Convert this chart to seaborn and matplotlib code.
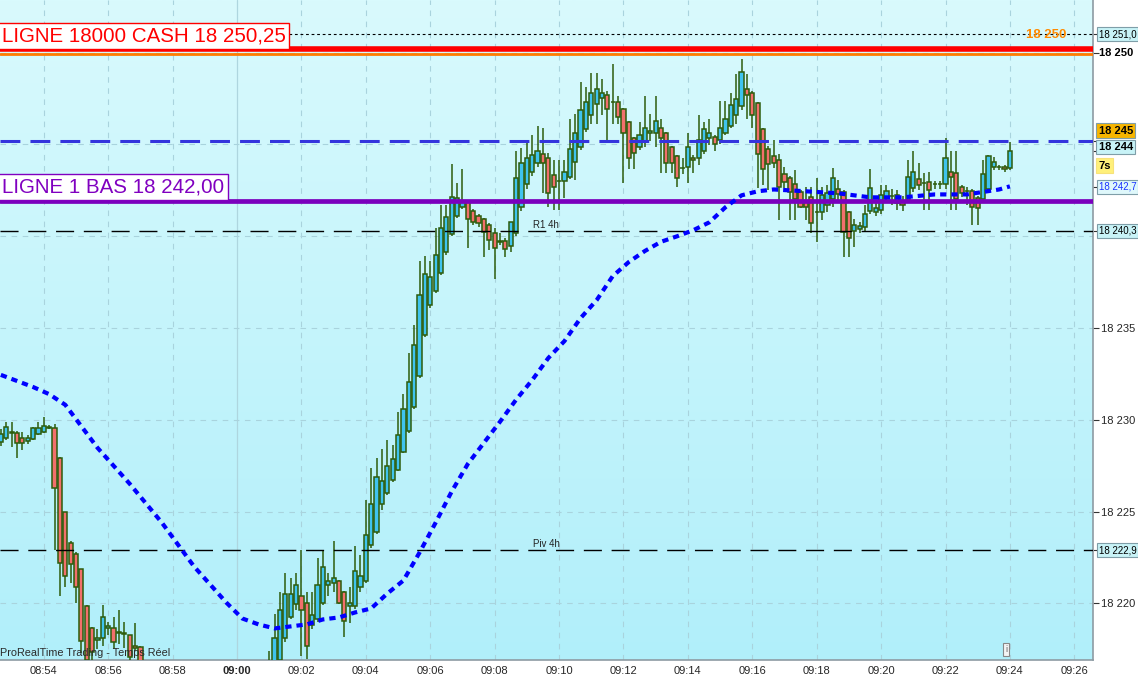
import numpy as np
import pandas as pd
import seaborn as sns
import matplotlib.pyplot as plt
from matplotlib.colors import LinearSegmentedColormap
from matplotlib.transforms import blended_transform_factory

# 10 second candles.
# block 1 starts 08:52:40, then price leaves the window (below) until 09:01:00
block1_start = "08:52:40"
block1_open = [18228.80, 18229.02, 18229.35, 18229.29, 18229.02, 18228.86, 18228.97, 18229.24, 18229.35, 18229.60,
               18229.57, 18227.93, 18225.00, 18223.32, 18222.72, 18221.85, 18219.84, 18218.64, 18217.99, 18218.10,
               18218.64, 18218.64, 18218.37, 18218.37, 18218.26, 18217.67, 18217.61]
block1_high = [18229.50, 18229.90, 18229.90, 18229.40, 18229.35, 18229.20, 18229.60, 18229.90, 18230.16, 18229.70,
               18229.80, 18228.00, 18225.00, 18223.40, 18222.80, 18221.90, 18219.90, 18218.70, 18218.59, 18219.89,
               18219.00, 18219.24, 18219.67, 18219.00, 18218.30, 18218.91, 18217.70]
block1_low = [18228.60, 18228.90, 18228.50, 18227.90, 18228.37, 18228.70, 18228.90, 18229.20, 18229.30, 18229.50,
              18222.93, 18220.38, 18220.92, 18221.14, 18220.00, 18217.30, 18216.50, 18216.80, 18217.50, 18217.70,
              18218.30, 18217.50, 18217.80, 18217.60, 18216.50, 18217.40, 18216.00]
block1_close = [18229.24, 18229.62, 18229.30, 18228.75, 18228.75, 18229.02, 18229.57, 18229.57, 18229.67, 18229.55,
                18226.30, 18222.23, 18221.52, 18222.17, 18220.92, 18217.93, 18216.90, 18217.34, 18218.10, 18219.24,
                18218.75, 18217.88, 18218.42, 18218.32, 18217.07, 18217.56, 18216.50]

# block 2: 09:01:00 -> 09:24:00
block2_start = "09:01:00"
block2_open = [18216.00, 18216.60, 18216.90, 18218.10, 18219.24, 18219.95, 18220.43, 18220.05, 18218.80, 18219.13,
               18220.05, 18221.03, 18221.09, 18221.25, 18220.60, 18219.84, 18219.84, 18220.87, 18221.20, 18223.20,
               18223.91, 18225.43, 18226.03, 18226.74, 18227.28, 18228.26, 18229.40, 18230.71, 18232.39, 18234.62,
               18236.25, 18237.01, 18237.99, 18239.13, 18240.11, 18241.09, 18241.60, 18241.85, 18241.36, 18241.09,
               18240.92, 18240.60, 18240.16, 18239.70, 18239.73, 18239.46, 18240.16, 18241.58, 18242.83, 18243.48,
               18243.97, 18244.46, 18244.24, 18243.32, 18243.00, 18242.99, 18243.21, 18244.02, 18244.84, 18245.87,
               18246.63, 18247.23, 18247.55, 18247.72, 18247.30, 18247.34, 18246.96, 18246.25, 18245.33, 18244.84,
               18245.16, 18245.60, 18245.65, 18245.92, 18245.65, 18244.84, 18244.35, 18243.70, 18243.75, 18244.29,
               18244.24, 18244.67, 18245.33, 18245.43, 18245.27, 18245.60, 18246.03, 18246.58, 18247.07, 18248.04,
               18247.83, 18247.28, 18245.87, 18244.78, 18244.35, 18244.13, 18243.37, 18243.15, 18242.83, 18242.39,
               18241.85, 18242.12, 18241.30, 18241.30, 18241.68, 18242.01, 18242.55, 18242.39, 18241.30, 18240.27,
               18240.40, 18240.49, 18241.36, 18241.30, 18241.41, 18242.07, 18242.17, 18241.79, 18241.85, 18241.96,
               18242.61, 18243.10, 18242.88, 18242.93, 18242.83, 18242.83, 18242.83, 18243.48, 18243.42, 18242.66,
               18242.45, 18242.45, 18242.07, 18242.01, 18242.55, 18243.75, 18243.75, 18243.75, 18243.70]
block2_high = [18217.39, 18219.40, 18220.65, 18221.68, 18221.41, 18221.68, 18222.93, 18220.65, 18220.65, 18222.45,
               18222.93, 18221.68, 18223.42, 18221.30, 18220.70, 18220.92, 18223.15, 18222.66, 18225.65, 18227.39,
               18227.93, 18228.42, 18228.91, 18228.64, 18230.43, 18231.41, 18233.64, 18235.16, 18238.64, 18238.91,
               18238.64, 18240.43, 18241.68, 18241.68, 18243.91, 18242.88, 18243.64, 18242.00, 18241.50, 18241.20,
               18241.00, 18240.70, 18240.43, 18240.20, 18239.90, 18240.80, 18244.67, 18244.80, 18245.20, 18245.50,
               18246.00, 18245.92, 18244.51, 18244.13, 18244.13, 18244.13, 18246.41, 18246.68, 18248.42, 18248.15,
               18248.91, 18248.91, 18248.59, 18247.90, 18249.40, 18247.66, 18247.00, 18246.30, 18245.40, 18246.20,
               18247.66, 18246.68, 18247.66, 18246.41, 18245.70, 18244.90, 18244.40, 18244.24, 18245.65, 18244.40,
               18246.63, 18246.20, 18246.41, 18245.50, 18247.39, 18247.39, 18247.83, 18248.86, 18249.67, 18248.86,
               18247.90, 18247.30, 18245.90, 18244.90, 18245.22, 18244.50, 18243.75, 18243.30, 18243.59, 18242.50,
               18242.66, 18242.66, 18243.15, 18242.66, 18242.80, 18243.70, 18243.04, 18242.50, 18241.40, 18240.92,
               18240.80, 18241.68, 18243.64, 18241.80, 18242.77, 18242.80, 18242.60, 18242.50, 18242.20, 18244.13,
               18244.67, 18243.97, 18243.42, 18243.48, 18243.00, 18243.00, 18245.38, 18244.67, 18244.67, 18242.80,
               18242.66, 18242.60, 18242.20, 18244.13, 18244.40, 18244.30, 18243.90, 18243.90, 18245.11]
block2_low = [18215.50, 18216.30, 18216.60, 18217.90, 18219.13, 18219.67, 18217.12, 18216.96, 18218.59, 18219.00,
              18219.90, 18220.38, 18220.60, 18219.95, 18218.15, 18218.91, 18219.70, 18220.60, 18221.10, 18223.00,
              18223.80, 18225.11, 18225.90, 18226.60, 18227.20, 18228.20, 18229.30, 18230.60, 18232.30, 18234.50,
              18236.10, 18236.90, 18237.90, 18239.00, 18240.00, 18241.00, 18241.50, 18239.35, 18240.60, 18240.50,
              18238.86, 18239.24, 18237.66, 18239.50, 18238.86, 18239.13, 18240.00, 18241.40, 18242.60, 18243.30,
              18243.80, 18242.34, 18241.58, 18241.41, 18241.41, 18242.07, 18243.10, 18243.04, 18244.70, 18245.70,
              18246.14, 18246.14, 18246.58, 18245.22, 18246.14, 18246.14, 18242.88, 18243.64, 18243.64, 18244.70,
              18244.84, 18245.20, 18244.84, 18243.42, 18243.42, 18243.42, 18242.66, 18243.40, 18242.88, 18243.42,
              18243.86, 18244.50, 18244.95, 18244.67, 18245.00, 18245.50, 18245.90, 18246.14, 18246.90, 18246.41,
              18245.92, 18242.61, 18242.77, 18242.50, 18243.70, 18240.87, 18242.61, 18240.87, 18240.87, 18241.52,
              18240.87, 18240.16, 18239.67, 18240.87, 18241.30, 18241.58, 18241.96, 18238.86, 18238.86, 18239.40,
              18240.20, 18240.22, 18241.20, 18241.10, 18241.20, 18241.80, 18241.70, 18241.41, 18241.40, 18241.80,
              18242.40, 18242.50, 18241.41, 18241.41, 18242.60, 18242.60, 18242.60, 18241.41, 18241.41, 18242.12,
              18241.68, 18240.60, 18240.60, 18241.90, 18242.40, 18243.60, 18243.60, 18243.50, 18243.60]
block2_close = [18216.50, 18218.10, 18219.67, 18220.54, 18220.54, 18220.98, 18219.62, 18217.66, 18219.35, 18221.03,
                18221.96, 18221.20, 18221.41, 18220.00, 18219.02, 18220.00, 18221.79, 18221.52, 18223.75, 18225.43,
                18226.90, 18226.68, 18227.50, 18227.88, 18229.18, 18230.60, 18232.07, 18234.08, 18236.79, 18237.93,
                18237.77, 18238.97, 18240.43, 18241.03, 18242.12, 18242.07, 18241.90, 18240.92, 18240.76, 18240.71,
                18240.22, 18239.78, 18239.35, 18239.72, 18239.29, 18240.76, 18243.15, 18243.97, 18244.29, 18244.40,
                18244.67, 18243.97, 18242.34, 18242.66, 18243.00, 18243.48, 18244.78, 18245.65, 18246.90, 18247.34,
                18247.83, 18248.04, 18247.83, 18246.96, 18247.30, 18246.52, 18245.65, 18244.24, 18244.51, 18245.54,
                18245.92, 18245.76, 18246.30, 18245.38, 18243.97, 18243.97, 18243.15, 18243.70, 18244.84, 18244.13,
                18245.22, 18245.87, 18245.60, 18245.05, 18245.92, 18246.41, 18247.17, 18247.50, 18248.97, 18247.72,
                18246.63, 18244.46, 18243.64, 18243.91, 18243.97, 18242.66, 18242.93, 18242.39, 18242.01, 18241.58,
                18241.58, 18240.71, 18241.30, 18242.23, 18242.34, 18243.15, 18242.28, 18240.22, 18239.89, 18240.60,
                18240.55, 18241.20, 18242.61, 18241.52, 18242.23, 18242.45, 18242.17, 18242.23, 18241.68, 18243.21,
                18243.48, 18242.77, 18242.88, 18242.50, 18242.83, 18242.83, 18244.29, 18243.21, 18242.01, 18242.34,
                18242.45, 18241.58, 18241.52, 18243.37, 18244.35, 18244.02, 18243.75, 18243.64, 18244.62]

# dotted moving average, bar number counted from 08:52:40
ma_bar = [0, 3, 6, 9, 12, 18, 24, 30, 36, 42, 45, 48, 51, 54, 57, 60, 63, 66, 69, 72, 75, 78, 81, 84, 87,
          90, 93, 96, 99, 102, 105, 108, 111, 114, 117, 120, 123, 126, 129, 132, 135, 138, 141, 144, 150,
          156, 162, 168, 174, 180, 186, 188]
ma_value = [18232.45, 18232.12, 18231.79, 18231.40, 18230.82, 18228.48, 18226.52, 18224.40, 18222.01, 18220.05,
            18219.18, 18218.86, 18218.64, 18218.75, 18218.86, 18219.13, 18219.24, 18219.51, 18219.73, 18220.54,
            18221.25, 18222.77, 18224.40, 18226.10, 18227.60, 18228.75, 18229.90, 18231.10, 18232.17, 18233.37,
            18234.29, 18235.54, 18236.52, 18237.83, 18238.60, 18239.20, 18239.70, 18240.00, 18240.33, 18240.76,
            18241.58, 18242.23, 18242.45, 18242.55, 18242.45, 18242.34, 18242.12, 18242.12, 18242.28, 18242.28,
            18242.55, 18242.72]

# horizontal levels
ligne_cash = 18250.20
orange_level = 18249.92
dotted_level = 18251.0
blue_level = 18245.2
ligne_bas = 18241.9
r1_4h = 18240.3
piv_4h = 18222.9

x_ticks = list(range(-6, 27, 2))   # minutes from 09:00


def to_minutes(hhmmss):
    h, m, s = [int(v) for v in hhmmss.split(":")]
    return h * 60 + m + s / 60 - 9 * 60


rows = []
for start, o, h, l, c in [(block1_start, block1_open, block1_high, block1_low, block1_close),
                          (block2_start, block2_open, block2_high, block2_low, block2_close)]:
    t0 = to_minutes(start)
    for i in range(len(o)):
        rows.append({"t": t0 + i / 6, "open": o[i], "high": h[i], "low": l[i], "close": c[i]})
df = pd.DataFrame(rows)

ma = pd.DataFrame({"t": to_minutes("08:52:40") + np.array(ma_bar) / 6, "ma": ma_value})

sns.set_style("white")
plt.rcParams["font.family"] = ["Liberation Sans", "DejaVu Sans"]

fig = plt.figure(figsize=(11.38, 6.79), dpi=100)
ax = fig.add_axes([0, 19 / 679, 1093 / 1138, 660 / 679])

xmin, xmax = -7.36, 26.58
ymin, ymax = 18216.92, 18252.87

# background gradient
bg = LinearSegmentedColormap.from_list("bg", ["#b1effa", "#d9fafd"])
ax.imshow(np.linspace(0, 1, 256).reshape(-1, 1), extent=[xmin, xmax, ymin, ymax], origin="lower",
          aspect="auto", cmap=bg, zorder=0)

# grid
for xt in x_ticks:
    if xt == 0:
        ax.axvline(xt, color="#aed6df", lw=0.9, zorder=1)
    else:
        ax.axvline(xt, color="#a9d3dd", lw=0.8, ls=(0, (5, 5)), zorder=1)
for yt in range(18220, 18251, 5):
    ax.axhline(yt, color="#a9d3dd", lw=0.8, ls=(0, (5, 5)), zorder=1)

# candles
wick = "#2d5c0c"
body_col = np.where(df["close"] >= df["open"], "#3fc3ee", "#f2706c")
ax.vlines(df["t"], df["low"], df["high"], color=wick, lw=1.1, zorder=3)
ax.bar(df["t"], (df["close"] - df["open"]).abs().clip(lower=0.03), bottom=df[["open", "close"]].min(axis=1),
       width=0.13, color=body_col, edgecolor=wick, linewidth=1.1, zorder=3.5)

# levels
ax.axhline(dotted_level, color="black", lw=0.8, ls=(0, (2.5, 2.5)), zorder=4)
ax.axhline(ligne_cash, color="#ff0000", lw=4, zorder=4.2)
ax.axhline(orange_level, color="#ff7c00", lw=2, zorder=4.1)
ax.axhline(blue_level, color="#3434dd", lw=2.2, ls=(0, (6.5, 3.3)), zorder=4)
ax.axhline(ligne_bas, color="#7a00bd", lw=3.4, zorder=4)
ax.axhline(r1_4h, color="black", lw=1, ls=(0, (13, 7)), zorder=4)
ax.axhline(piv_4h, color="black", lw=1, ls=(0, (13, 7)), zorder=4)

# moving average
sns.lineplot(data=ma, x="t", y="ma", ax=ax, color="#0000ff", linewidth=3,
             linestyle=(0, (1.5, 1.2)), dash_capstyle="butt", zorder=6)

ax.set_xlim(xmin, xmax)
ax.set_ylim(ymin, ymax)
ax.set_xlabel("")
ax.set_ylabel("")

# x axis
ax.set_xticks(x_ticks)
ax.set_xticklabels(["%02d:%02d" % divmod(9 * 60 + m, 60) for m in x_ticks])
for lab, m in zip(ax.get_xticklabels(), x_ticks):
    if m == 0:
        lab.set_fontweight("bold")
        lab.set_fontsize(8.8)
ax.tick_params(axis="x", length=0, labelsize=8, pad=4, bottom=True)

# y axis on the right
yt = [18220, 18225, 18230, 18235, piv_4h, r1_4h, 18242.7, blue_level, 18244.62, 18250, dotted_level]
ax.set_yticks(yt)
ax.set_yticklabels(["18 220", "18 225", "18 230", "18 235"] + [""] * 7)
ax.yaxis.tick_right()
ax.tick_params(axis="y", right=True, left=False, labelright=True, labelleft=False, length=4,
               width=0.8, color="#333333", labelsize=8, pad=2)

for side in ["top", "left"]:
    ax.spines[side].set_visible(False)
for side in ["right", "bottom"]:
    ax.spines[side].set_visible(True)
    ax.spines[side].set_color("#8d9ba3")
    ax.spines[side].set_linewidth(1.2)

trans = blended_transform_factory(ax.transAxes, ax.transData)


def price_tag(value, text, fc, tc="black", bold=False, ec="#7f9ea8", size=8):
    ax.annotate(text, xy=(1, value), xycoords=trans, xytext=(4, 0), textcoords="offset points",
                va="center", ha="left", fontsize=size, color=tc, fontweight="bold" if bold else "normal",
                bbox=dict(boxstyle="square,pad=0.2", fc=fc, ec=ec, lw=0.8) if fc else None,
                annotation_clip=False, zorder=10)


price_tag(dotted_level, "18 251,0", "#c8f3f7", size=7)
price_tag(18250.0, "18 250", None, bold=True)
price_tag(18245.75, "18 245", "#f7b500", bold=True)
price_tag(18244.85, "18 244", "#c8f3f7", bold=True)
price_tag(18243.85, "7s", "#fff07a", bold=True, ec="#f7e27a")
price_tag(18242.7, "18 242,7", "#dff8fb", tc="#1a33ff", size=7)
price_tag(r1_4h, "18 240,3", "#c8f3f7", size=7)
price_tag(piv_4h, "18 222,9", "#c8f3f7", size=7)

# left boxed labels
ax.text(0.0017, 18250.9, "LIGNE 18000 CASH 18 250,25", transform=trans, fontsize=14.8, color="#ff0000",
        va="center", ha="left", zorder=9,
        bbox=dict(boxstyle="square,pad=0.18", fc="white", ec="#ff0000", lw=1))
ax.text(0.0017, 18242.68, "LIGNE 1 BAS 18 242,00", transform=trans, fontsize=14.8, color="#8000c0",
        va="center", ha="left", zorder=9,
        bbox=dict(boxstyle="square,pad=0.18", fc="white", ec="#8000c0", lw=1))

ax.text(25.12, 18250.96, "18 250", fontsize=9.5, color="#ff8a00", fontweight="bold", ha="center",
        va="center", zorder=9)
ax.text(9.6, 18240.62, "R1 4h", fontsize=7, color="#222222", ha="center", va="center", zorder=9)
ax.text(9.6, 18223.22, "Piv 4h", fontsize=7, color="#222222", ha="center", va="center", zorder=9)
ax.text(xmin + 0.01, 18217.28, "ProRealTime Trading - Temps Réel", fontsize=7.8, color="#2a2a2a",
        ha="left", va="center", zorder=9)
ax.text(23.88, 18217.5, "i", fontsize=6.5, color="#666666", ha="center", va="center", zorder=9,
        bbox=dict(boxstyle="square,pad=0.25", fc="#f4f4f4", ec="#888888", lw=0.8))

fig.savefig("out.png", dpi=100)
